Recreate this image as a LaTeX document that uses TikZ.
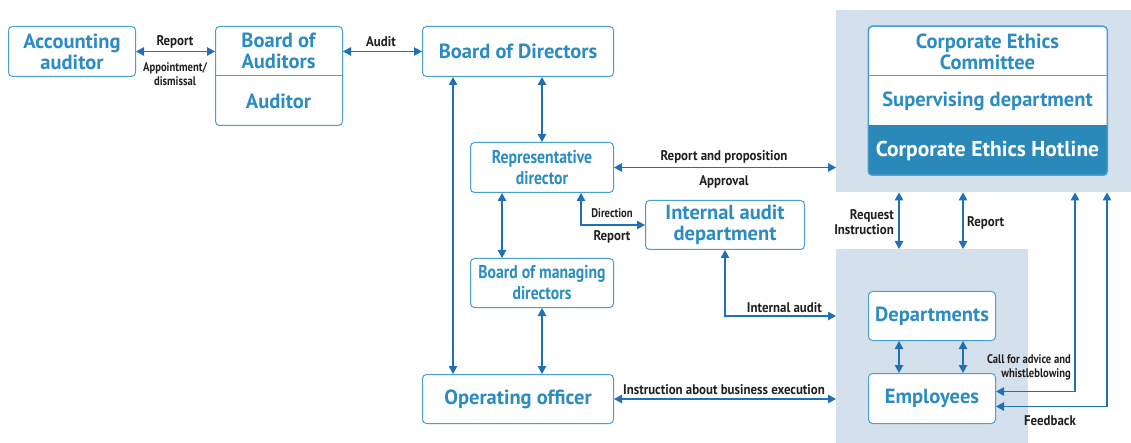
\documentclass[tikz,border=0pt]{standalone}
\usepackage{fontspec}
\setmainfont{PT Sans}
\newfontfamily\condfam{PT Sans}[FakeStretch=0.85]
\newfontfamily\labfam{PT Sans}[FakeStretch=0.92]
\usetikzlibrary{arrows.meta,calc}
\definecolor{boxc}{HTML}{4A9FD0}
\definecolor{txtc}{HTML}{2B8CC4}
\definecolor{arrc}{HTML}{1F70B8}
\definecolor{darkc}{HTML}{2B89BA}
\definecolor{bgc}{HTML}{D4E0EB}
\definecolor{labc}{HTML}{231F20}
\begin{document}
\begin{tikzpicture}[x=1pt,y=-1pt,
  box/.style={draw=boxc, line width=1pt, rounded corners=4pt, fill=white, inner sep=0pt, anchor=north west},
  bgbox/.style={fill=bgc, draw=none, inner sep=0pt, anchor=north west},
  txt/.style={text=txtc, font=\fontsize{20.5}{21}\selectfont\bfseries, align=center, inner sep=0pt},
  ctxt/.style={text=txtc, font=\fontsize{18.5}{21}\selectfont\condfam\bfseries, align=center, inner sep=0pt},
  lab/.style={text=labc, font=\fontsize{14}{15}\selectfont\labfam\bfseries, align=center, inner sep=0pt},
  slab/.style={text=labc, font=\fontsize{12.5}{14}\selectfont\condfam\bfseries, align=center, inner sep=0pt},
  arr/.style={draw=arrc, line width=1.2pt, {Triangle[length=8pt,width=8.5pt]}-{Triangle[length=8pt,width=8.5pt]}}
]
\useasboundingbox (0,0) rectangle (1131,443);
% backgrounds
\node[bgbox, minimum width=295pt, minimum height=182pt] (bgT) at (836,10) {};
\node[bgbox, minimum width=192pt, minimum height=194pt] (bgB) at (836,249) {};
% boxes
\node[box, minimum width=127pt, minimum height=50pt] (acc) at (8,26) {};
\node[txt] (acct) at (acc.center) {Accounting\\auditor};
\node[box, minimum width=127pt, minimum height=99pt] (boa) at (215,26) {};
\draw[boxc, line width=1pt] (215,76) -- (342,76);
\node[txt] (boat) at (278.5,51) {Board of\\Auditors};
\node[txt] (audt) at (278.5,101) {Auditor};
\node[box, minimum width=191pt, minimum height=50pt] (bod) at (422,26) {};
\node[txt] (bodt) at (bod.center) {Board of Directors};
\node[box, minimum width=143pt, minimum height=50pt] (rep) at (470,142) {};
\node[ctxt] (rept) at (rep.center) {Representative\\director};
\node[box, minimum width=159pt, minimum height=49pt] (iad) at (645,200) {};
\node[txt] (iadt) at (iad.center) {Internal audit\\department};
\node[box, minimum width=143pt, minimum height=49pt] (bmd) at (470,258) {};
\node[ctxt] (bmdt) at (bmd.center) {Board of managing\\directors};
\node[box, minimum width=191pt, minimum height=49pt] (oo) at (422,374) {};
\node[txt] (oot) at (oo.center) {Operating officer};
% ethics box
\node[box, minimum width=239pt, minimum height=149pt] (eth) at (868,26) {};
\begin{scope}
  \clip[rounded corners=4pt] (868,26) rectangle (1107,175);
  \fill[darkc] (868,125) rectangle (1107,175);
\end{scope}
\draw[boxc, line width=1pt, rounded corners=4pt] (868,26) rectangle (1107,175);
\draw[boxc, line width=1pt] (868,76) -- (1107,76);
\node[txt] (ect) at (987.5,52) {Corporate Ethics\\Committee};
\node[txt] (sdt) at (987.5,101) {Supervising department};
\node[txt, text=white, font=\fontsize{21.5}{22}\selectfont\bfseries] (ceh) at (987.5,151) {Corporate Ethics Hotline};
% departments / employees
\node[box, minimum width=127pt, minimum height=49pt] (dep) at (868,291) {};
\node[txt] (dept) at (dep.center) {Departments};
\node[box, minimum width=127pt, minimum height=50pt] (emp) at (868,373) {};
\node[txt] (empt) at (emp.center) {Employees};
% helper x coordinates
\coordinate (xa) at (899,0);
\coordinate (xb) at (963,0);
\coordinate (xc) at (1075,0);
\coordinate (xd) at (1107,0);
\coordinate (xe) at (453,0);
\coordinate (xf) at (502,0);
\coordinate (xg) at (581,0);
% arrows
\draw[arr] (acc.east) -- (acc.east -| boa.west);
\node[lab] (l1) at (175,42) {Report};
\node[slab] (l2) at (175,74) {Appointment/\\dismissal};
\draw[arr] (boa.east |- bod.west) -- (bod.west);
\node[lab] (l3) at (381,42) {Audit};
\draw[arr] (bod.south -| xe) -- (oo.north -| xe);
\draw[arr] (rep.north |- bod.south) -- (rep.north);
\draw[arr] (rep.south -| xf) -- (bmd.north -| xf);
\draw[arr] (bmd.south) -- (bmd.south |- oo.north);
\draw[arr] (rep.south -| xg) |- (iad.west);
\node[slab] (l4) at (612,213) {Direction};
\node[lab] (l5) at (612,237) {Report};
\draw[arr] (rep.east) -- (rep.east -| bgT.west);
\node[lab] (l6) at (724,157) {Report and proposition};
\node[lab] (l7) at (724,182) {Approval};
\draw[arr] (iad.south) |- (bgB.west |- dep.west);
\node[lab, anchor=east] (l8) at (822,308) {Internal audit};
\draw[arr] (oo.east) -- (oo.east -| bgB.west);
\node[lab] (l9) at (724,390) {Instruction about business execution};
\draw[arr] (bgT.south -| xa) -- (bgB.north -| xa);
\draw[arr] (bgT.south -| xb) -- (bgB.north -| xb);
\node[lab, align=right, anchor=east] (l10) at (894,222) {Request\\Instruction};
\node[lab, anchor=west] (l11) at (967,223) {Report};
\draw[arr] (dep.south -| xa) -- (emp.north -| xa);
\draw[arr] (dep.south -| xb) -- (emp.north -| xb);
\draw[arr] ([yshift=7pt]emp.east) -| (bgT.south -| xc);
\draw[arr] ([yshift=-8pt]emp.east) -| (bgT.south -| xd);
\node[slab, align=right, anchor=east] (l12) at (1071,367) {Call for advice and\\whistleblowing};
\node[lab] (l13) at (1050,421) {Feedback};
\end{tikzpicture}
\end{document}
